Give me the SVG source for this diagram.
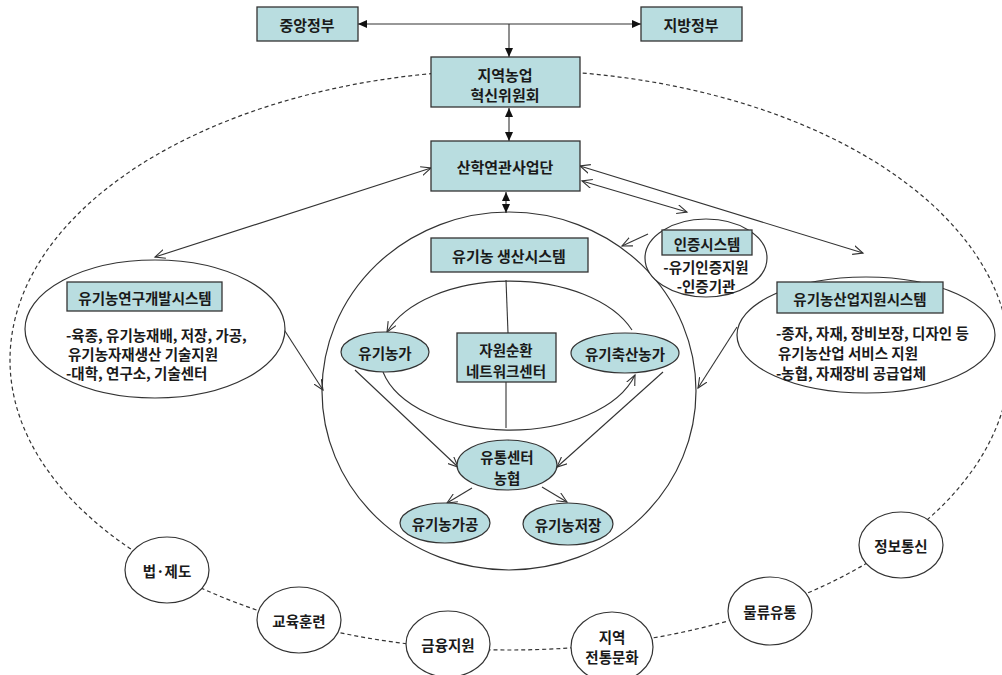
<svg xmlns="http://www.w3.org/2000/svg" width="1002" height="675" viewBox="0 0 1002 675">
<defs>
<marker id="fa" markerUnits="userSpaceOnUse" markerWidth="10" markerHeight="8" refX="9" refY="4" orient="auto-start-reverse"><path d="M0,0 L9,4 L0,8 z" fill="#111"/></marker>
<marker id="oa" markerUnits="userSpaceOnUse" markerWidth="12" markerHeight="10" refX="10" refY="5" orient="auto-start-reverse"><path d="M0,0.5 L10,5 L0,9.5" fill="none" stroke="#333" stroke-width="1.1"/></marker>
<style>
text{font-family:"Noto Sans CJK KR","Malgun Gothic",sans-serif;font-weight:700;fill:#1a1a1a;font-size:14.5px;}
.h{font-size:15px;}
.c{text-anchor:middle;dominant-baseline:central;}
.l{dominant-baseline:central;}
.box{fill:#b9dde0;stroke:#333;stroke-width:1.3;}
.ell{fill:#b9dde0;stroke:#333;stroke-width:1.2;}
.wh{fill:#fff;stroke:#333;stroke-width:1.2;}
.ln{fill:none;stroke:#333;stroke-width:1.1;}
.dash{fill:none;stroke:#333;stroke-width:1.2;stroke-dasharray:4 3;}
</style>
</defs>
<rect width="1002" height="675" fill="#fff"/>
<ellipse id="outer-ring" cx="510" cy="360" rx="500" ry="290" class="dash"/>
<ellipse id="production-circle" cx="509" cy="391" rx="187" ry="179" fill="#fff" stroke="#333" stroke-width="1.2"/>
<g id="connectors">
<path class="ln" d="M358,24 L641,24" marker-start="url(#fa)" marker-end="url(#fa)"/>
<path class="ln" d="M509,24 L509,57" marker-end="url(#fa)"/>
<path class="ln" d="M509,108 L509,141" marker-start="url(#fa)" marker-end="url(#fa)"/>
<path class="ln" d="M506,192 L506,213" marker-start="url(#fa)" marker-end="url(#fa)"/>
<path class="ln" d="M431,168 L155,257" marker-start="url(#oa)" marker-end="url(#oa)"/>
<path class="ln" d="M580,166 L863,253" marker-start="url(#oa)" marker-end="url(#oa)"/>
<path class="ln" d="M582,181 L687,212" marker-start="url(#oa)" marker-end="url(#oa)"/>
<path class="ln" d="M648,234 L622,246" marker-end="url(#oa)"/>
<path class="ln" d="M283,328 L323,390" marker-end="url(#oa)"/>
<path class="ln" d="M737,327 L698,388" marker-end="url(#oa)"/>
<path class="ln" d="M632,330 A130,75 0 0 0 387,332" marker-end="url(#oa)"/>
<path class="ln" d="M383,372 A130,75 0 0 0 635,375" marker-end="url(#oa)"/>
<path class="ln" d="M506,280 L508,333"/>
<path class="ln" d="M506,382 L506,428"/>
<path class="ln" d="M355,370 L458,467" marker-end="url(#oa)"/>
<path class="ln" d="M663,372 L557,467" marker-end="url(#oa)"/>
<path class="ln" d="M472,488 L447,503" marker-end="url(#oa)"/>
<path class="ln" d="M542,487 L567,502" marker-end="url(#oa)"/>
</g>
<g id="central-gov"><rect class="box" x="257" y="7" width="101" height="34"/><text class="c h" x="307" y="24">중앙정부</text></g>
<g id="local-gov"><rect class="box" x="641" y="7" width="101" height="34"/><text class="c h" x="691" y="24">지방정부</text></g>
<g id="committee"><rect class="box" x="431" y="57" width="149" height="50"/><text class="c h" x="505" y="74">지역농업</text><text class="c h" x="505" y="94">혁신위원회</text></g>
<g id="consortium"><rect class="box" x="431" y="141" width="149" height="50"/><text class="c h" x="505" y="166">산학연관사업단</text></g>
<g id="rnd-system">
<ellipse class="wh" cx="155" cy="329" rx="130" ry="69"/>
<rect class="box" x="67" y="282" width="155" height="29"/><text class="c" x="145" y="297">유기농연구개발시스템</text>
<text class="l" x="66" y="334">-육종, 유기농재배, 저장, 가공,</text>
<text class="l" x="68" y="353">유기농자재생산 기술지원</text>
<text class="l" x="66" y="372">-대학, 연구소, 기술센터</text>
</g>
<g id="cert-system">
<ellipse class="wh" cx="706" cy="258" rx="61" ry="39"/>
<rect class="box" x="662" y="230" width="90" height="25"/><text class="c" x="707" y="243">인증시스템</text>
<text class="c" x="706" y="266" font-size="14">-유기인증지원</text>
<text class="c" x="706" y="285" font-size="14">-인증기관</text>
</g>
<g id="industry-system">
<ellipse class="wh" cx="866" cy="335" rx="129" ry="58"/>
<rect class="box" x="777" y="282" width="166" height="31"/><text class="c" x="860" y="298">유기농산업지원시스템</text>
<text class="l" x="776" y="332">-종자, 자재, 장비보장, 디자인 등</text>
<text class="l" x="778" y="352">유기농산업 서비스 지원</text>
<text class="l" x="776" y="372">-농협, 자재장비 공급업체</text>
</g>
<g id="production-system"><rect class="box" x="431" y="238" width="157" height="34"/><text class="c h" x="509" y="255">유기농 생산시스템</text></g>
<g id="resource-center"><rect class="box" x="457" y="333" width="99" height="49"/><text class="c" x="506" y="349">자원순환</text><text class="c" x="506" y="370">네트워크센터</text></g>
<g id="organic-farm"><ellipse class="ell" cx="385" cy="352" rx="44" ry="20"/><text class="c" x="385" y="352">유기농가</text></g>
<g id="livestock-farm"><ellipse class="ell" cx="625" cy="353" rx="54" ry="20"/><text class="c" x="625" y="353">유기축산농가</text></g>
<g id="distribution"><ellipse class="ell" cx="507" cy="465" rx="50" ry="25"/><text class="c" x="507" y="456">유통센터</text><text class="c" x="507" y="477">농협</text></g>
<g id="processing"><ellipse class="ell" cx="445" cy="523" rx="45" ry="20"/><text class="c" x="445" y="523">유기농가공</text></g>
<g id="storage"><ellipse class="ell" cx="568" cy="524" rx="45" ry="21"/><text class="c" x="568" y="524">유기농저장</text></g>
<g id="law"><ellipse class="wh" cx="167" cy="570" rx="42" ry="33"/><text class="c" x="167" y="570" font-size="14">법·제도</text></g>
<g id="education"><ellipse class="wh" cx="299" cy="620" rx="42" ry="33"/><text class="c" x="299" y="620" font-size="14">교육훈련</text></g>
<g id="finance"><ellipse class="wh" cx="448" cy="644" rx="42" ry="33"/><text class="c" x="448" y="644" font-size="14">금융지원</text></g>
<g id="culture"><ellipse class="wh" cx="612" cy="647" rx="41" ry="35"/><text class="c" x="612" y="636" font-size="14">지역</text><text class="c" x="612" y="656" font-size="14">전통문화</text></g>
<g id="logistics"><ellipse class="wh" cx="770" cy="611" rx="42" ry="34"/><text class="c" x="770" y="611" font-size="14">물류유통</text></g>
<g id="ict"><ellipse class="wh" cx="901" cy="545" rx="42" ry="33"/><text class="c" x="901" y="545" font-size="14">정보통신</text></g>
</svg>
